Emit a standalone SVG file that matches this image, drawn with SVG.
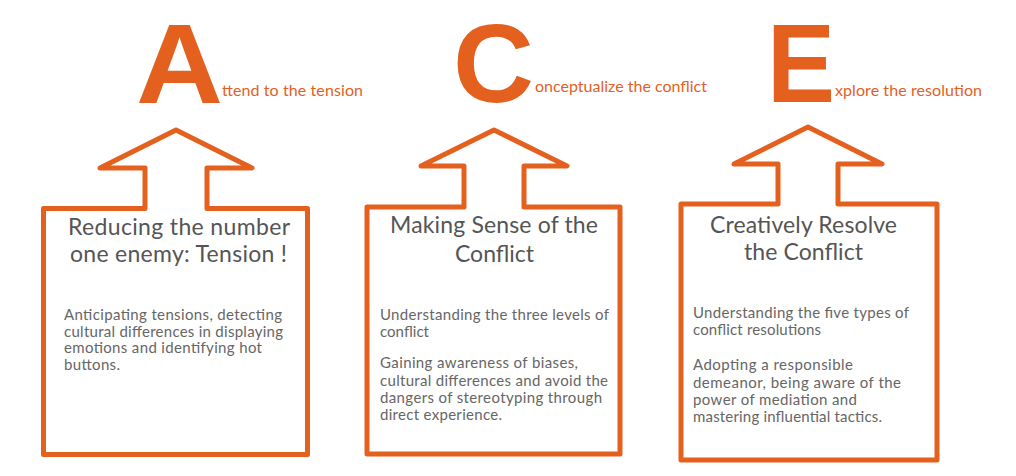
<svg xmlns="http://www.w3.org/2000/svg" width="1016" height="476" viewBox="0 0 1016 476">
  <style>
    .frame { fill: #ffffff; stroke: #E4601F; stroke-width: 5; stroke-linejoin: round; }
    .big { font-family: "Liberation Sans", Arial, sans-serif; font-weight: bold; fill: #E4601F; }
    .tag { font-family: Lato, "Open Sans", sans-serif; font-size: 16px; fill: #E4601F; }
    .title { font-family: Lato, "Noto Sans", sans-serif; font-size: 23px; fill: #555555; }
    .body { font-family: Lato, "Noto Sans", sans-serif; font-size: 15px; fill: #666666; }
  </style>
  <rect width="1016" height="476" fill="#ffffff"/>

  <g id="header-A">
    <text class="big" x="136" y="103" font-size="113" textLength="87" lengthAdjust="spacingAndGlyphs">A</text>
    <text class="tag" x="222" y="96" textLength="141">ttend to the tension</text>
  </g>
  <g id="header-C">
    <text class="big" x="453" y="102" font-size="112" textLength="81" lengthAdjust="spacingAndGlyphs">C</text>
    <text class="tag" x="535" y="92" textLength="172">onceptualize the conflict</text>
  </g>
  <g id="header-E">
    <text class="big" x="767" y="102" font-size="112" textLength="68" lengthAdjust="spacingAndGlyphs">E</text>
    <text class="tag" x="835" y="96" textLength="147">xplore the resolution</text>
  </g>

  <g id="connectors"></g>

  <g id="node-tension">
    <path class="frame" d="M43.5,454.5 L43.5,208.5 L145,208.5 L145,168 L100,168 L176,130 L252,168 L207,168 L207,208.5 L307.5,208.5 L307.5,454.5 Z"/>
    <text class="title" x="68" y="235" textLength="222">Reducing the number</text>
    <text class="title" x="70" y="262" textLength="217">one enemy: Tension !</text>
    <text class="body" x="64" y="320" textLength="218">Anticipating tensions, detecting</text>
    <text class="body" x="64" y="336.5" textLength="219">cultural differences in displaying</text>
    <text class="body" x="64" y="353" textLength="198">emotions and identifying hot</text>
    <text class="body" x="64" y="370" textLength="56">buttons.</text>
  </g>

  <g id="node-conflict">
    <path class="frame" d="M367,454 L367,207 L464,207 L464,166 L421,166 L494,130 L567,166 L524,166 L524,207 L620,207 L620,454 Z"/>
    <text class="title" x="390" y="233" textLength="208">Making Sense of the</text>
    <text class="title" x="455" y="262" textLength="79">Conflict</text>
    <text class="body" x="380" y="320" textLength="229">Understanding the three levels of</text>
    <text class="body" x="380" y="337" textLength="49">conflict</text>
    <text class="body" x="380" y="368" textLength="198">Gaining awareness of biases,</text>
    <text class="body" x="380" y="385.5" textLength="228">cultural differences and avoid the</text>
    <text class="body" x="380" y="403" textLength="222">dangers of stereotyping through</text>
    <text class="body" x="380" y="420" textLength="122">direct experience.</text>
  </g>

  <g id="node-resolve">
    <path class="frame" d="M681,460 L681,204 L778,204 L778,164 L734,164 L808,127 L882,164 L838,164 L838,204 L937,204 L937,460 Z"/>
    <text class="title" x="710" y="233" textLength="187">Creatively Resolve</text>
    <text class="title" x="744" y="260" textLength="119">the Conflict</text>
    <text class="body" x="693" y="318" textLength="216">Understanding the five types of</text>
    <text class="body" x="693" y="335" textLength="128">conflict resolutions</text>
    <text class="body" x="693" y="370" textLength="160">Adopting a responsible</text>
    <text class="body" x="693" y="388" textLength="208">demeanor, being aware of the</text>
    <text class="body" x="693" y="405" textLength="164">power of mediation and</text>
    <text class="body" x="693" y="422" textLength="189">mastering influential tactics.</text>
  </g>
</svg>
